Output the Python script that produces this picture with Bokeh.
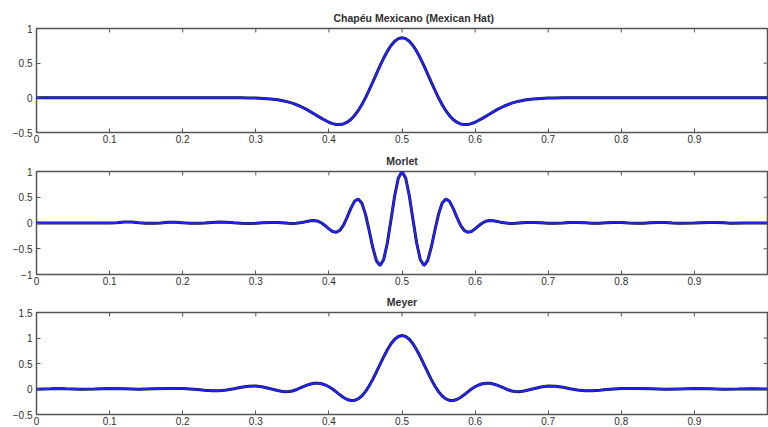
import math
from bokeh.plotting import figure
from bokeh.layouts import column
from bokeh.models import Range1d, FixedTicker
from bokeh.embed import file_html
from bokeh.resources import INLINE

titles = ["Chapéu Mexicano (Mexican Hat)", "Morlet", "Meyer"]

x_ticks = [0.0, 0.1, 0.2, 0.3, 0.4, 0.5, 0.6, 0.7, 0.8, 0.9]
x_tick_labels = ["0", "0.1", "0.2", "0.3", "0.4", "0.5", "0.6", "0.7", "0.8", "0.9"]

hat_y_ticks = [-0.5, 0, 0.5, 1]
hat_y_labels = ["-0.5", "0", "0.5", "1"]
morlet_y_ticks = [-1, -0.5, 0, 0.5, 1]
morlet_y_labels = ["-1", "-0.5", "0", "0.5", "1"]
meyer_y_ticks = [-0.5, 0, 0.5, 1, 1.5]
meyer_y_labels = ["-0.5", "0", "0.5", "1", "1.5"]

# Mexican hat (x, value)
hat_pts = [
    (0.00, 0.0), (0.28, 0.0), (0.29, -0.002), (0.30, -0.004), (0.31, -0.009), (0.32, -0.016),
    (0.33, -0.028), (0.34, -0.048), (0.35, -0.077), (0.36, -0.118), (0.37, -0.170), (0.38, -0.232),
    (0.39, -0.296), (0.40, -0.352), (0.405, -0.372), (0.41, -0.384), (0.415, -0.386), (0.42, -0.376),
    (0.425, -0.352), (0.43, -0.312), (0.435, -0.257), (0.44, -0.186), (0.445, -0.099), (0.45, 0.0),
    (0.455, 0.110), (0.46, 0.227), (0.465, 0.346), (0.47, 0.464), (0.475, 0.574), (0.48, 0.673),
    (0.485, 0.754), (0.49, 0.816), (0.495, 0.854), (0.50, 0.867), (0.505, 0.854), (0.51, 0.816),
    (0.515, 0.754), (0.52, 0.673), (0.525, 0.574), (0.53, 0.464), (0.535, 0.346), (0.54, 0.227),
    (0.545, 0.110), (0.55, 0.0), (0.555, -0.099), (0.56, -0.186), (0.565, -0.257), (0.57, -0.312),
    (0.575, -0.352), (0.58, -0.376), (0.585, -0.386), (0.59, -0.384), (0.595, -0.372), (0.60, -0.352),
    (0.61, -0.296), (0.62, -0.232), (0.63, -0.170), (0.64, -0.118), (0.65, -0.077), (0.66, -0.048),
    (0.67, -0.028), (0.68, -0.016), (0.69, -0.009), (0.70, -0.004), (0.71, -0.002), (0.72, 0.0),
    (1.00, 0.0),
]

# Morlet (x, value)
morlet_pts = [
    (0.00, 0.0), (0.10, 0.0), (0.11, 0.006), (0.12, 0.018), (0.13, 0.018), (0.14, 0.005),
    (0.15, -0.004), (0.16, -0.004), (0.17, 0.0), (0.18, 0.014), (0.19, 0.016), (0.20, 0.005),
    (0.21, -0.004), (0.22, -0.005), (0.23, 0.0), (0.24, 0.010), (0.25, 0.018), (0.26, 0.016),
    (0.27, 0.004), (0.28, -0.006), (0.29, -0.008), (0.30, -0.004), (0.31, 0.006), (0.32, 0.012),
    (0.33, 0.010), (0.34, 0.0), (0.345, -0.006),
    (0.35, -0.008), (0.355, -0.005), (0.36, 0.003), (0.365, 0.016), (0.37, 0.031), (0.375, 0.044),
    (0.38, 0.047), (0.385, 0.035), (0.39, 0.000), (0.395, -0.052), (0.40, -0.114), (0.405, -0.164),
    (0.41, -0.180), (0.415, -0.142), (0.42, -0.040), (0.425, 0.113), (0.43, 0.283), (0.435, 0.420),
    (0.44, 0.467), (0.445, 0.387), (0.45, 0.172), (0.455, -0.141), (0.46, -0.475), (0.465, -0.733),
    (0.47, -0.827), (0.475, -0.707), (0.48, -0.384), (0.485, 0.068), (0.49, 0.530), (0.495, 0.873),
    (0.50, 1.000),
    (0.505, 0.873), (0.51, 0.530), (0.515, 0.068), (0.52, -0.384), (0.525, -0.707), (0.53, -0.827),
    (0.535, -0.733), (0.54, -0.475), (0.545, -0.141), (0.55, 0.172), (0.555, 0.387), (0.56, 0.467),
    (0.565, 0.420), (0.57, 0.283), (0.575, 0.113), (0.58, -0.040), (0.585, -0.142), (0.59, -0.180),
    (0.595, -0.164), (0.60, -0.114), (0.605, -0.052), (0.61, 0.000), (0.615, 0.035), (0.62, 0.047),
    (0.625, 0.044), (0.63, 0.031), (0.635, 0.016), (0.64, 0.003), (0.645, -0.005), (0.65, -0.008),
    (0.655, -0.006), (0.66, 0.0), (0.67, 0.008), (0.68, 0.012), (0.69, 0.006), (0.70, -0.004),
    (0.71, -0.006), (0.72, 0.0), (0.73, 0.010), (0.74, 0.012), (0.75, 0.004), (0.76, -0.004),
    (0.77, -0.004), (0.78, 0.004), (0.79, 0.012), (0.80, 0.010), (0.81, 0.0), (0.82, -0.004),
    (0.83, -0.004), (0.84, 0.004), (0.85, 0.010), (0.86, 0.010), (0.87, 0.002), (0.88, -0.004),
    (0.90, 0.0), (0.92, 0.008), (0.93, 0.010), (0.94, 0.003), (0.95, -0.004), (0.97, 0.0),
    (1.00, 0.0),
]

# Meyer (x, value)
meyer_pts = [
    (0.00, -0.005), (0.02, 0.005), (0.03, 0.012), (0.04, 0.005), (0.06, -0.004), (0.08, 0.0),
    (0.10, 0.008), (0.12, 0.006), (0.14, -0.005), (0.16, 0.003), (0.18, 0.010), (0.20, 0.008),
    (0.21, 0.0), (0.22, -0.010), (0.23, -0.025), (0.24, -0.035), (0.25, -0.033), (0.26, -0.020),
    (0.27, 0.005), (0.28, 0.035), (0.29, 0.055), (0.30, 0.058), (0.31, 0.040), (0.32, 0.005),
    (0.33, -0.030), (0.335, -0.045), (0.34, -0.052), (0.345, -0.050), (0.35, -0.040), (0.355, -0.015),
    (0.36, 0.016), (0.365, 0.048), (0.37, 0.077), (0.375, 0.099), (0.38, 0.112), (0.385, 0.114),
    (0.39, 0.103), (0.395, 0.079), (0.40, 0.044), (0.405, 0.0), (0.41, -0.057), (0.415, -0.114),
    (0.42, -0.166), (0.425, -0.205), (0.43, -0.226), (0.435, -0.224), (0.44, -0.195), (0.445, -0.138),
    (0.45, -0.052), (0.455, 0.058), (0.46, 0.189), (0.465, 0.334), (0.47, 0.484), (0.475, 0.633),
    (0.48, 0.770), (0.485, 0.886), (0.49, 0.975), (0.495, 1.030), (0.50, 1.050),
    (0.505, 1.030), (0.51, 0.975), (0.515, 0.886), (0.52, 0.770), (0.525, 0.633), (0.53, 0.484),
    (0.535, 0.334), (0.54, 0.189), (0.545, 0.058), (0.55, -0.052), (0.555, -0.138), (0.56, -0.195),
    (0.565, -0.224), (0.57, -0.226), (0.575, -0.205), (0.58, -0.166), (0.585, -0.114), (0.59, -0.057),
    (0.595, 0.0), (0.60, 0.044), (0.605, 0.079), (0.61, 0.103), (0.615, 0.114), (0.62, 0.112),
    (0.625, 0.099), (0.63, 0.077), (0.635, 0.048), (0.64, 0.016), (0.645, -0.015), (0.65, -0.040),
    (0.655, -0.050), (0.66, -0.052), (0.665, -0.045), (0.67, -0.030), (0.68, 0.005), (0.69, 0.040),
    (0.70, 0.058), (0.71, 0.055), (0.72, 0.035), (0.73, 0.005), (0.74, -0.020), (0.75, -0.033),
    (0.76, -0.035), (0.77, -0.025), (0.78, -0.010), (0.79, 0.0), (0.80, 0.008), (0.82, 0.010),
    (0.84, 0.003), (0.86, -0.005), (0.88, 0.002), (0.90, 0.008), (0.92, 0.004), (0.94, -0.004),
    (0.96, 0.0), (0.98, 0.006), (1.00, 0.0),
]

FONT = "Liberation Sans"
AXIS_COLOR = "#555555"
TEXT_COLOR = "#2e2e2e"


def key(t):
    return str(int(t)) if float(t).is_integer() else repr(float(t))


def style_axis(ax, ticks, labels):
    ax.ticker = FixedTicker(ticks=ticks, minor_ticks=[])
    ax.major_label_overrides = {key(t): l for t, l in zip(ticks, labels)}
    ax.major_tick_in = 4
    ax.major_tick_out = 0
    ax.minor_tick_line_color = None
    ax.axis_line_color = None
    ax.major_tick_line_color = AXIS_COLOR
    ax.major_tick_line_width = 1
    ax.major_label_text_font = FONT
    ax.major_label_text_color = TEXT_COLOR
    ax.major_label_text_font_size = "10px"


def panel(title, pts, yr, yticks, ylabels, height, top, bottom, title_offset=None):
    xs = [a for a, b in pts]
    ys = [b for a, b in pts]
    p = figure(width=768, height=height, x_range=Range1d(0, 1), y_range=Range1d(*yr),
               output_backend="svg", toolbar_location=None,
               min_border_left=36, min_border_right=1, min_border_top=top, min_border_bottom=bottom)
    p.title.text = title
    if title_offset is None:
        p.title.align = "center"
    else:
        p.title.align = "left"
        p.title.offset = title_offset
    p.title.text_font = FONT
    p.title.text_font_size = "10.5px"
    p.title.text_font_style = "bold"
    p.title.text_color = TEXT_COLOR
    p.xgrid.visible = False
    p.ygrid.visible = False
    p.outline_line_color = AXIS_COLOR
    p.outline_line_width = 1.5
    p.outline_line_alpha = 1.0
    style_axis(p.xaxis[0], x_ticks, x_tick_labels)
    p.xaxis[0].major_label_standoff = 2
    style_axis(p.yaxis[0], yticks, ylabels)
    p.yaxis[0].major_label_standoff = 4
    # inward tick marks on the top and right edges of the box (MATLAB style)
    p.ray(x=x_ticks, y=[yr[1]] * len(x_ticks), length=4, angle=-math.pi / 2,
          length_units="screen", line_color=AXIS_COLOR, line_width=1)
    p.ray(x=[1.0] * len(yticks), y=yticks, length=4, angle=math.pi,
          length_units="screen", line_color=AXIS_COLOR, line_width=1)
    p.line(xs, ys, line_color="#15152a", line_width=3.0)
    p.line(xs, ys, line_color="#2222ff", line_width=2.0)
    return p


p1 = panel(titles[0], hat_pts, (-0.5, 1), hat_y_ticks, hat_y_labels, 146, 28, 14, title_offset=297)
p2 = panel(titles[1], morlet_pts, (-1, 1), morlet_y_ticks, morlet_y_labels, 142, 25, 14)
p3 = panel(titles[2], meyer_pts, (-0.5, 1.5), meyer_y_ticks, meyer_y_labels, 139, 24, 12)

layout = column(p1, p2, p3, spacing=0)

open("out.html", "w").write(file_html(layout, INLINE))
